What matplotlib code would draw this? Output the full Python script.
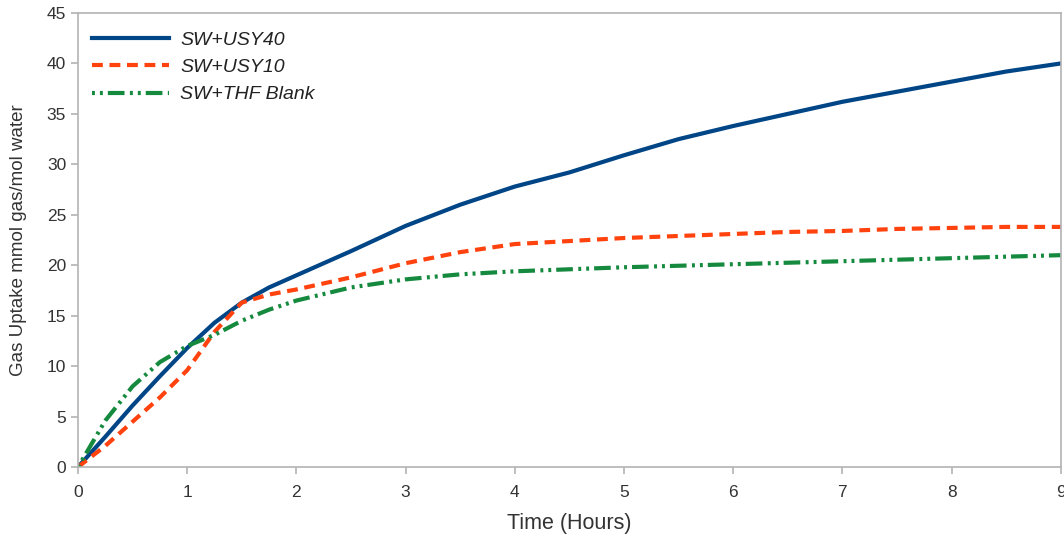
import matplotlib
matplotlib.use("Agg")
import matplotlib.pyplot as plt

plt.rcParams['font.family'] = ['Liberation Sans', 'DejaVu Sans']

hours = [0, 0.25, 0.5, 0.75, 1, 1.25, 1.5, 1.75, 2, 2.5, 3, 3.5, 4, 4.5, 5, 5.5, 6, 6.5, 7, 7.5, 8, 8.5, 9]
usy40 = [0, 3.0, 6.1, 9.0, 11.8, 14.3, 16.3, 17.8, 19.0, 21.4, 23.9, 26.0, 27.8, 29.2, 30.9, 32.5, 33.8, 35.0, 36.2, 37.2, 38.2, 39.2, 40.0]
usy10 = [0, 2.1, 4.5, 6.9, 9.6, 13.4, 16.3, 17.1, 17.6, 18.8, 20.2, 21.3, 22.1, 22.4, 22.7, 22.9, 23.1, 23.3, 23.4, 23.6, 23.7, 23.8, 23.8]
blank = [0, 4.6, 8.0, 10.4, 12.0, 13.1, 14.5, 15.6, 16.5, 17.8, 18.6, 19.1, 19.4, 19.6, 19.8, 19.95, 20.1, 20.25, 20.4, 20.55, 20.7, 20.85, 21.0]

fig = plt.figure(figsize=(10.64, 5.35), dpi=100)
ax = fig.add_axes([0.0733, 0.127, 0.9237, 0.8487])

ax.plot(hours, usy40, color='#004586', lw=3.0, label='SW+USY40')
ax.plot(hours, usy10, color='#ff420e', lw=3.0, dashes=(2.6, 1.6), label='SW+USY10')
ax.plot(hours, blank, color='#158a3e', lw=3.0, dashes=(0.7, 1.2, 0.7, 1.2, 4.0, 1.3), label='SW+THF Blank')

ax.set_xlim(0, 9)
ax.set_ylim(0, 45)
ax.set_xticks(range(0, 10))
ax.set_yticks(range(0, 46, 5))
for s in ax.spines.values():
    s.set_color('#b3b3b3')
    s.set_linewidth(1.2)
ax.tick_params(colors='#b3b3b3', labelcolor='#333333', labelsize=12.5, length=5, width=1.2)
ax.tick_params(axis='x', pad=8)
ax.set_xlabel('Time (Hours)', fontsize=15.5, color='#333333', labelpad=9)
ax.set_ylabel('Gas Uptake mmol gas/mol water', fontsize=13.5, color='#333333', labelpad=14)

leg = ax.legend(loc='upper left', frameon=False, fontsize=14, handlelength=4.0,
                handletextpad=0.55, labelspacing=0.5, borderaxespad=0.3,
                bbox_to_anchor=(0.0, 0.99))
for t in leg.get_texts():
    t.set_fontstyle('italic')
    t.set_color('#222222')

fig.savefig('out.png', dpi=100)
